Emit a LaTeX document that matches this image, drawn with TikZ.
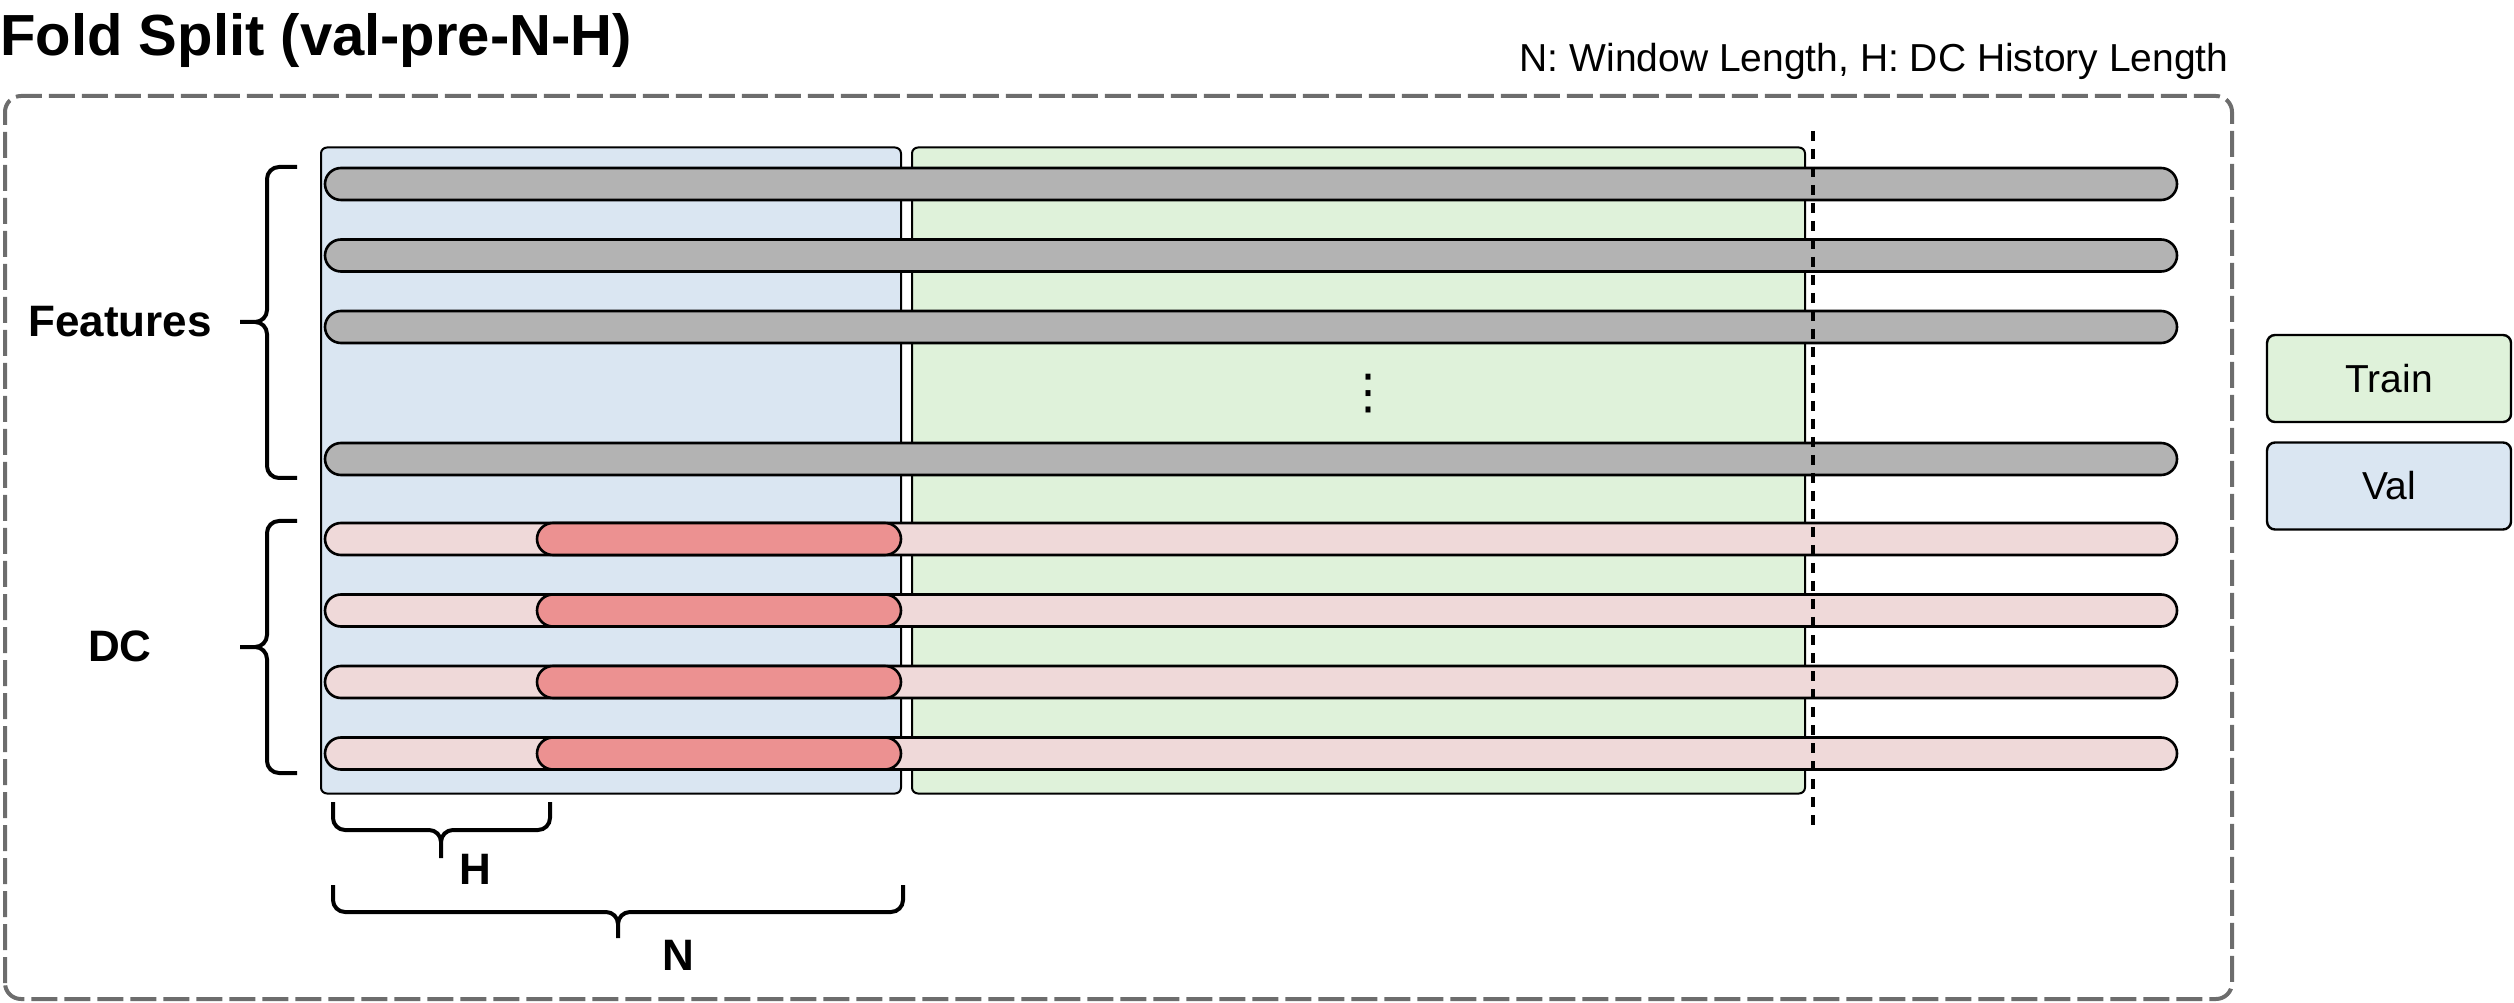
\documentclass[tikz,border=0pt]{standalone}
\usepackage{fontspec}
\setmainfont{Liberation Sans}
\newfontfamily\dotsfont{DejaVu Sans}
\definecolor{valblue}{HTML}{DAE6F2}
\definecolor{traingreen}{HTML}{DFF2DA}
\definecolor{featgray}{HTML}{B3B3B3}
\definecolor{dcpink}{HTML}{EFD9D9}
\definecolor{dcred}{HTML}{EC9191}
\definecolor{framegray}{HTML}{6D6D6D}

\begin{document}
\begin{tikzpicture}[x=.5pt,y=.5pt,
  split/.style={draw=black,line width=1pt,rounded corners=3pt,inner sep=0,minimum height=323pt},
  bar/.style={draw=black,line width=1.3pt,rounded corners=8pt,inner sep=0,minimum height=16pt},
  brc/.style={line width=2pt,rounded corners=6pt},
  legend/.style={draw=black,line width=1.2pt,rounded corners=4pt,minimum width=122pt,minimum height=43.5pt,font=\fontsize{19.5}{23}\selectfont},
  lab/.style={font=\fontsize{22}{26}\selectfont\bfseries}]
\useasboundingbox (0,0) rectangle (2514,1002);

\node[anchor=base west,inner sep=0,font=\fontsize{29}{34}\selectfont\bfseries] (T0) at (0,946) {Fold Split (val-pre-N-H)};
\node[anchor=base east,inner sep=0,font=\fontsize{19.5}{23}\selectfont] (T1) at (2229,930) {N: Window Length, H: DC History Length};
\draw[framegray,line width=2pt,dash pattern=on 13pt off 3.5pt,rounded corners=8pt] (5,3) rectangle (2232,906);

\node[split,fill=valblue,minimum width=290pt] (V) at (611,531.5) {};
\node[split,fill=traingreen,minimum width=446.5pt] (T) at (1358.5,531.5) {};

\foreach \y [count=\i] in {818,746.5,675,543}
  \node[bar,fill=featgray,minimum width=926pt] (F\i) at (1251,\y) {};
\foreach \y [count=\i] in {463,391.5,320,248.5}{
  \node[bar,fill=dcpink,minimum width=926pt] (D\i) at (1251,\y) {};
  \node[bar,fill=dcred,minimum width=182pt] (W\i) at (719,\y) {};}

\node[inner sep=0,font=\dotsfont\fontsize{24}{28}\selectfont] (E) at (1368,608) {⋮};

\coordinate (C1) at (1813,871);
\coordinate (C2) at (1813,176);
\draw[line width=1.9pt,dash pattern=on 5pt off 4pt] (C1) -- (C2);

\coordinate (A1) at (297,835);
\coordinate (A2) at (297,524);
\coordinate (A) at (240,680);
\coordinate (B1) at (297,481);
\coordinate (B2) at (297,229);
\coordinate (B) at (240,355);
\coordinate (H1) at (333,200);
\coordinate (H2) at (550,200);
\coordinate (H) at (441,144);
\coordinate (N1) at (333,117);
\coordinate (N2) at (903,117);
\coordinate (N) at (618,64);
\draw[brc] (A1) -- ++(-30,0) |- (A) (A2) -- ++(-30,0) |- (A);
\draw[brc] (B1) -- ++(-30,0) |- (B) (B2) -- ++(-30,0) |- (B);
\draw[brc] (H1) -- ++(0,-28) -| (H) (H2) -- ++(0,-28) -| (H);
\draw[brc] (N1) -- ++(0,-27) -| (N) (N2) -- ++(0,-27) -| (N);

\node[lab] (LF) at (120,680) {Features};
\node[lab] (LD) at (120,356) {DC};
\node[lab] (LH) at (475,133) {H};
\node[lab] (LN) at (678,47) {N};

\node[legend,fill=traingreen] (LT) at (2389,623.5) {Train};
\node[legend,fill=valblue] (LV) at (2389,516) {Val};
\end{tikzpicture}
\end{document}
